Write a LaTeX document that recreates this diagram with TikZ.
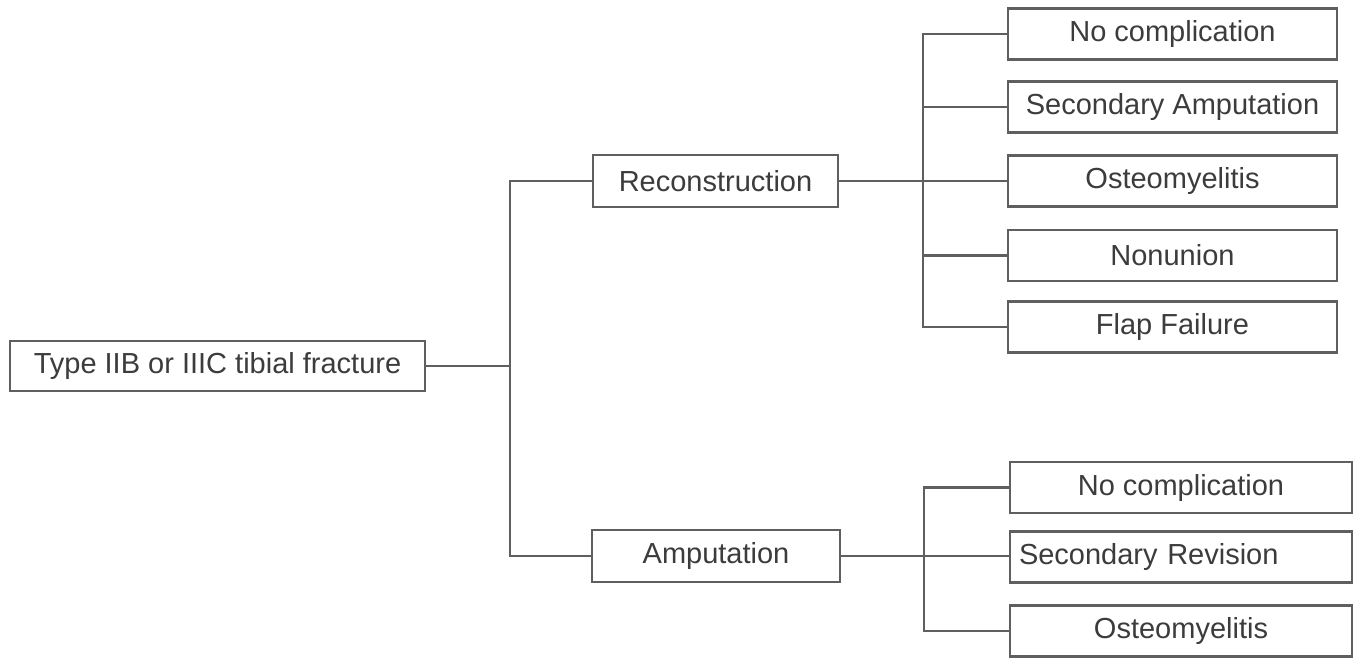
\documentclass[tikz,border=0pt]{standalone}
\usepackage{fontspec}
\setmainfont{Liberation Sans}
\definecolor{linec}{RGB}{95,95,95}
\definecolor{textc}{RGB}{60,60,60}
\begin{document}
\begin{tikzpicture}[x=0.5pt,y=-0.5pt,
  box/.style={draw=linec, line width=1.3pt, rectangle, inner sep=0pt, text=textc, font=\fontsize{14.5}{17}\selectfont},
  conn/.style={draw=linec, line width=1.1pt}]
\useasboundingbox[fill=white] (0,0) rectangle (1360,658);
\node[box, minimum width=207.5pt, minimum height=25pt] (root) at (217.5,366) {Type IIB or IIIC tibial fracture};
\node[box, minimum width=122.5pt, minimum height=26pt] (rec) at (715.5,181) {Reconstruction};
\node[box, minimum width=124pt, minimum height=26pt] (amp) at (716,556) {Amputation};
\node[box, minimum width=164.5pt, minimum height=25.5pt] (r1) at (1172.5,34) {No complication};
\node[box, minimum width=164.5pt, minimum height=25.5pt] (r2) at (1172.5,107) {Secondary Amputation};
\node[box, minimum width=164.5pt, minimum height=25.5pt] (r3) at (1172.5,181) {Osteomyelitis};
\node[box, minimum width=164.5pt, minimum height=25.5pt] (r4) at (1172.5,255.5) {Nonunion};
\node[box, minimum width=164.5pt, minimum height=25.5pt] (r5) at (1172.5,327) {Flap Failure};
\node[box, minimum width=171pt, minimum height=25.5pt] (a1) at (1181,487.5) {No complication};
\node[box, minimum width=171pt, minimum height=25.5pt, text width=162pt, align=left] (a2) at (1181,557) {Secondary Revision};
\node[box, minimum width=171pt, minimum height=25.5pt] (a3) at (1181,631) {Osteomyelitis};
\coordinate (bus1) at (510,366);
\coordinate (bus2) at (923,181);
\coordinate (bus3) at (924,556);
% root level
\draw[conn] (root.east) -- (bus1);
\draw[conn] (rec.west) -| (bus1) |- (amp.west);
% reconstruction level
\draw[conn] (rec.east) -- (bus2);
\draw[conn] (r1.west) -| (bus2) |- (r5.west);
\draw[conn] (bus2 |- r2.west) -- (r2.west);
\draw[conn] (bus2) -- (r3.west);
\draw[conn] (bus2 |- r4.west) -- (r4.west);
% amputation level
\draw[conn] (amp.east) -- (bus3);
\draw[conn] (a1.west) -| (bus3) |- (a3.west);
\draw[conn] (bus3) -- (bus3 -| a2.west);
\end{tikzpicture}
\end{document}
